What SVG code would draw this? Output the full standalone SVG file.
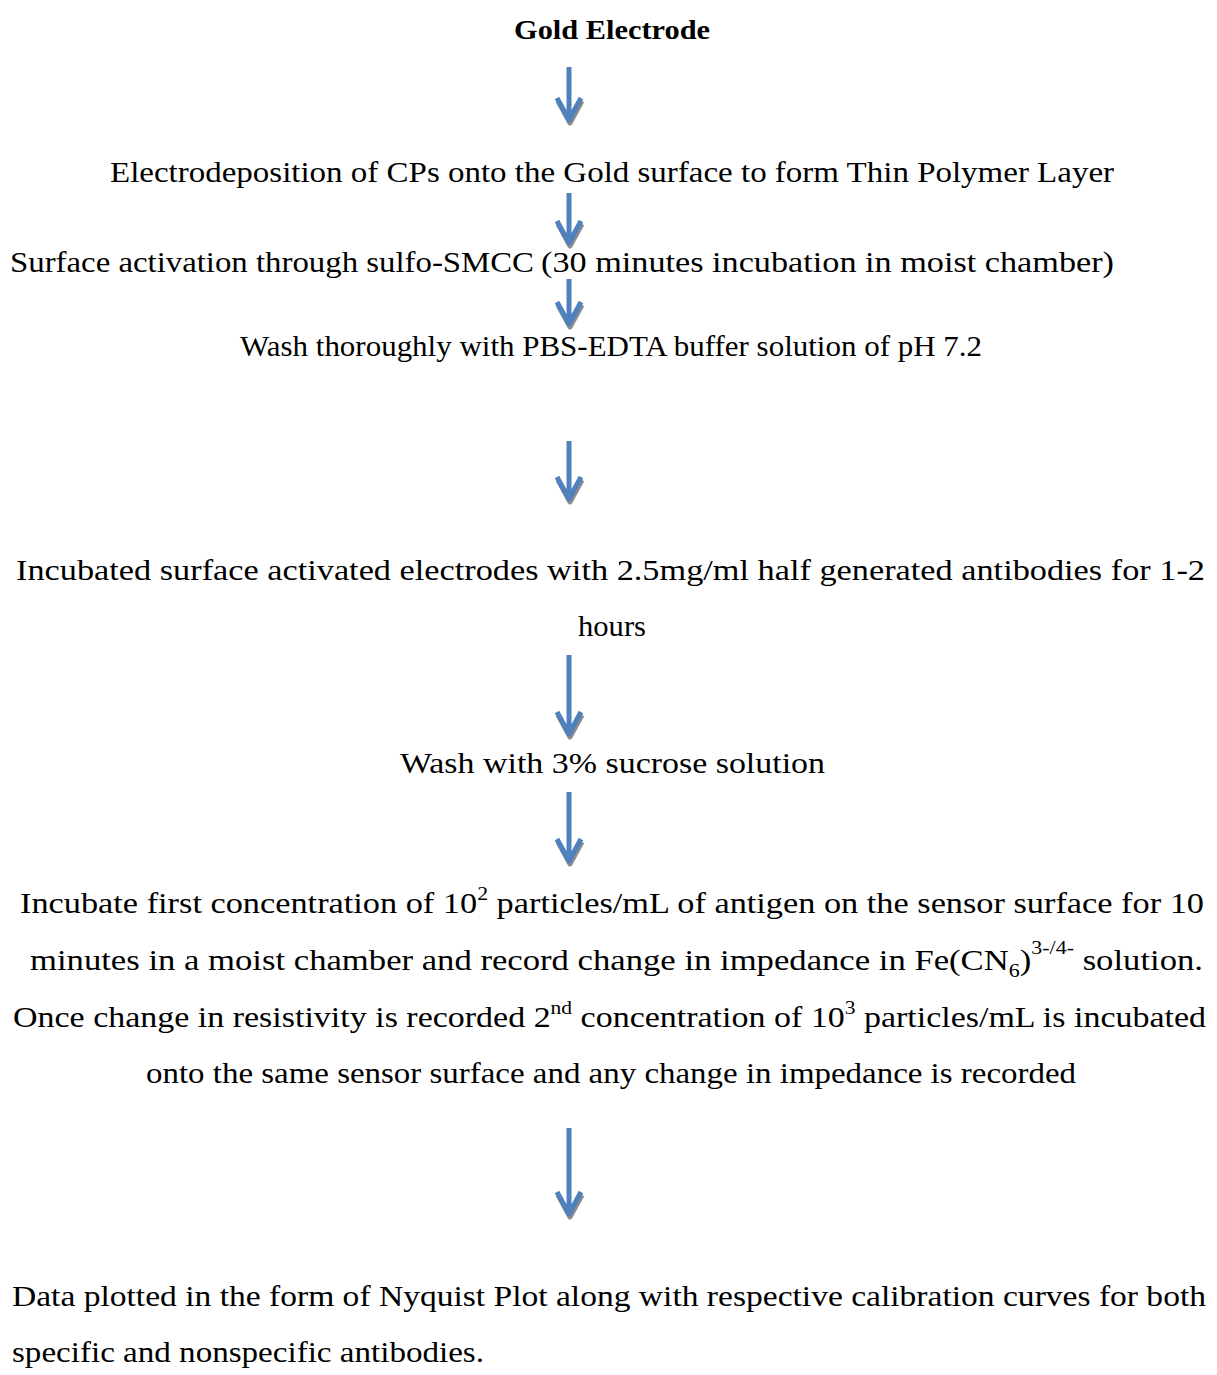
<svg xmlns="http://www.w3.org/2000/svg" width="1217" height="1375" viewBox="0 0 1217 1375">
<defs>
<style>
.t{font-family:"Liberation Serif","Times New Roman",serif;font-size:30px;fill:#000;}
.b{font-family:"Liberation Serif","Times New Roman",serif;font-size:27px;font-weight:bold;fill:#000;}
.ar{fill:none;stroke:#4f81bd;stroke-width:5;stroke-linecap:butt;stroke-linejoin:round;}
.sh{fill:none;stroke:#8c8c8c;stroke-width:5;stroke-linejoin:round;}
</style>
</defs>
<rect width="1217" height="1375" fill="#fff"/>
<g id="connectors">
<g id="a1"><path class="sh" d="M558,101 L570,123 L582,101"/><path class="ar" d="M569,67 V119 M557,98 L569,120 L581,98"/></g>
<g id="a2"><path class="sh" d="M558,224 L570,246 L582,224"/><path class="ar" d="M569,193 V242 M557,221 L569,243 L581,221"/></g>
<g id="a3"><path class="sh" d="M558,305 L570,327 L582,305"/><path class="ar" d="M569,279 V323 M557,302 L569,324 L581,302"/></g>
<g id="a4"><path class="sh" d="M558,480 L570,502 L582,480"/><path class="ar" d="M569,441 V498 M557,477 L569,499 L581,477"/></g>
<g id="a5"><path class="sh" d="M558,715 L570,737 L582,715"/><path class="ar" d="M569,655 V733 M557,712 L569,734 L581,712"/></g>
<g id="a6"><path class="sh" d="M558,842 L570,864 L582,842"/><path class="ar" d="M569,792 V860 M557,839 L569,861 L581,839"/></g>
<g id="a7"><path class="sh" d="M558,1195 L570,1217 L582,1195"/><path class="ar" d="M569,1128 V1213 M557,1192 L569,1214 L581,1192"/></g>
</g>
<g id="n1"><text class="b" x="514" y="39" textLength="196" lengthAdjust="spacingAndGlyphs">Gold Electrode</text></g>
<g id="n2"><text class="t" x="110" y="182" textLength="1004" lengthAdjust="spacingAndGlyphs">Electrodeposition of CPs onto the Gold surface to form Thin Polymer Layer</text></g>
<g id="n3"><text class="t" y="272"><tspan x="10" textLength="524" lengthAdjust="spacingAndGlyphs">Surface activation through sulfo-SMCC</tspan><tspan x="541" textLength="573" lengthAdjust="spacingAndGlyphs">(30 minutes incubation in moist chamber)</tspan></text></g>
<g id="n4"><text class="t" x="240" y="356" textLength="742" lengthAdjust="spacingAndGlyphs">Wash thoroughly with PBS-EDTA buffer solution of pH 7.2</text></g>
<g id="n5">
<text class="t" x="16" y="580" textLength="1189" lengthAdjust="spacingAndGlyphs">Incubated surface activated electrodes with 2.5mg/ml half generated antibodies for 1-2</text>
<text class="t" x="578" y="636" textLength="68" lengthAdjust="spacingAndGlyphs">hours</text>
</g>
<g id="n6"><text class="t" x="400" y="773" textLength="425" lengthAdjust="spacingAndGlyphs">Wash with 3% sucrose solution</text></g>
<g id="n7">
<text class="t" x="20" y="913" textLength="1184" lengthAdjust="spacingAndGlyphs">Incubate first concentration of 10<tspan font-size="19" dy="-13">2</tspan><tspan dy="13"> particles/mL of antigen on the sensor surface for 10</tspan></text>
<text class="t" x="30" y="970" textLength="1173" lengthAdjust="spacingAndGlyphs">minutes in a moist chamber and record change in impedance in Fe(CN<tspan font-size="19" dy="7">6</tspan><tspan dy="-7">)</tspan><tspan font-size="19" dy="-16">3-/4-</tspan><tspan dy="16"> solution.</tspan></text>
<text class="t" x="13" y="1027" textLength="1193" lengthAdjust="spacingAndGlyphs">Once change in resistivity is recorded 2<tspan font-size="19" dy="-13">nd</tspan><tspan dy="13"> concentration of 10</tspan><tspan font-size="19" dy="-13">3</tspan><tspan dy="13"> particles/mL is incubated</tspan></text>
<text class="t" x="146" y="1083" textLength="930" lengthAdjust="spacingAndGlyphs">onto the same sensor surface and any change in impedance is recorded</text>
</g>
<g id="n8">
<text class="t" x="12" y="1306" textLength="1194" lengthAdjust="spacingAndGlyphs">Data plotted in the form of Nyquist Plot along with respective calibration curves for both</text>
<text class="t" x="12" y="1362" textLength="472" lengthAdjust="spacingAndGlyphs">specific and nonspecific antibodies.</text>
</g>
</svg>
